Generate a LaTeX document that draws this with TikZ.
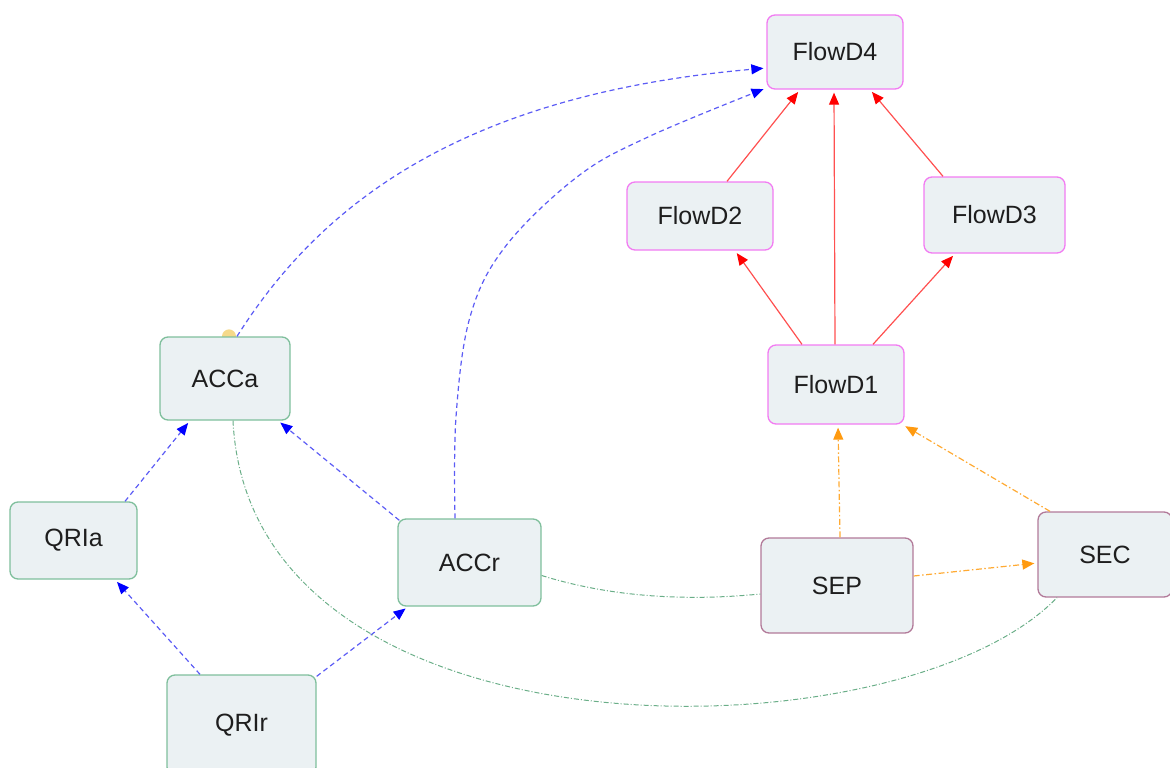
\documentclass[tikz,border=0pt]{standalone}
\usepackage{fontspec}
\setmainfont{Liberation Sans}
\usetikzlibrary{arrows.meta,backgrounds}
\definecolor{boxfill}{HTML}{EBF1F3}
\definecolor{greenline}{HTML}{7FBF9C}
\definecolor{pinkline}{HTML}{F27BF2}
\definecolor{maroonline}{HTML}{B27A99}
\definecolor{blueedge}{HTML}{5C5CF5}
\definecolor{rededge}{HTML}{FF5050}
\definecolor{orangeedge}{HTML}{FFAA33}
\definecolor{orangetip}{HTML}{FF9A10}
\definecolor{greenedge}{HTML}{6AAE88}
\definecolor{txt}{HTML}{1E1E1E}
\definecolor{dotyellow}{HTML}{F5D98A}
\tikzset{
  box/.style={draw, fill=boxfill, rounded corners=8pt, line width=1.3pt, inner sep=0pt,
    text=txt, font=\fontsize{25}{29}\selectfont},
  gbox/.style={box, draw=greenline},
  pbox/.style={box, draw=pinkline},
  mbox/.style={box, draw=maroonline},
  blueline/.style={draw=blueedge, line width=1.2pt, dash pattern=on 5pt off 3.5pt, shorten >=3pt, -{Triangle[length=12pt,width=10pt,color=blue]}},
  redline/.style={draw=rededge, line width=1.2pt, shorten >=3pt, -{Triangle[length=12pt,width=10pt,color=red]}},
  orangeline/.style={draw=orangeedge, line width=1.2pt, dash pattern=on 6pt off 2.5pt on 1.5pt off 2.5pt, shorten >=3pt, -{Triangle[length=12pt,width=10pt,color=orangetip]}},
  greenlink/.style={draw=greenedge, line width=1pt, dash pattern=on 5pt off 2pt on 1pt off 2pt},
}
\begin{document}
\begin{tikzpicture}[x=1pt,y=-1pt]
\useasboundingbox (0,0) rectangle (1170,768);
% nodes
\node[pbox, minimum width=136pt, minimum height=74pt] (FlowD4) at (835,52) {FlowD4};
\node[pbox, minimum width=146pt, minimum height=68pt] (FlowD2) at (700,216) {FlowD2};
\node[pbox, minimum width=141pt, minimum height=76pt] (FlowD3) at (994.5,215) {FlowD3};
\node[pbox, minimum width=136pt, minimum height=79pt] (FlowD1) at (836,384.5) {FlowD1};
\node[gbox, minimum width=130pt, minimum height=83pt] (ACCa) at (225,378.5) {ACCa};
\node[gbox, minimum width=127pt, minimum height=77pt] (QRIa) at (73.5,540.5) {QRIa};
\node[gbox, minimum width=143pt, minimum height=87pt] (ACCr) at (469.5,562.5) {ACCr};
\node[mbox, minimum width=152pt, minimum height=95pt] (SEP) at (837,585.5) {SEP};
\node[mbox, minimum width=134pt, minimum height=85pt] (SEC) at (1105,554.5) {SEC};
\node[gbox, minimum width=149pt, minimum height=100pt] (QRIr) at (241.5,725) {QRIr};
\begin{pgfonlayer}{background}
\fill[dotyellow] ([xshift=4pt]ACCa.north) circle (7pt);
\end{pgfonlayer}
% red edges
\draw[redline] ([xshift=27pt]FlowD2.north) -- ([xshift=-35pt]FlowD4.south);
\draw[redline] ([xshift=-1pt]FlowD1.north) -- ([xshift=-1pt]FlowD4.south);
\draw[redline] ([xshift=-51.5pt]FlowD3.north) -- ([xshift=35pt]FlowD4.south);
\draw[redline] ([xshift=-34pt]FlowD1.north) -- ([xshift=35pt]FlowD2.south);
\draw[redline] ([xshift=37pt]FlowD1.north) -- ([xshift=-39.5pt]FlowD3.south);
% orange edges
\draw[orangeline] ([xshift=3pt]SEP.north) -- ([xshift=2pt]FlowD1.south);
\draw[orangeline] ([xshift=-55pt]SEC.north) -- ([xshift=-2pt]FlowD1.south east);
\draw[orangeline] ([yshift=9.5pt]SEP.east) -- ([yshift=-8.5pt]SEC.west);
% blue edges
\draw[blueline] ([xshift=51.5pt]QRIa.north) -- ([xshift=-35pt]ACCa.south);
\draw[blueline] ([xshift=2pt,yshift=-2pt]ACCr.north west) -- ([xshift=53pt]ACCa.south);
\draw[blueline] ([xshift=-41.5pt]QRIr.north) -- ([xshift=41.5pt]QRIa.south);
\draw[blueline] ([yshift=-2pt]QRIr.north east) -- ([xshift=-61.5pt]ACCr.south);
\draw[blueline] ([xshift=12pt]ACCa.north) .. controls (320,205) and (460,95) .. ([yshift=-16pt]FlowD4.west);
\draw[blueline] plot[smooth, tension=0.6] coordinates {([xshift=-14.5pt]ACCr.north) (456,417) (470,317) (505,247) (577,177) (648,137) ([yshift=-36pt]FlowD4.west)};
% green links
\draw[greenlink] ([yshift=-13pt]ACCr.east) .. controls (620,600) and (700,600) .. ([yshift=-8.5pt]SEP.west);
\draw[greenlink] ([xshift=8pt]ACCa.south) .. controls (250,770) and (900,760) .. ([xshift=-48pt]SEC.south);
\end{tikzpicture}
\end{document}
